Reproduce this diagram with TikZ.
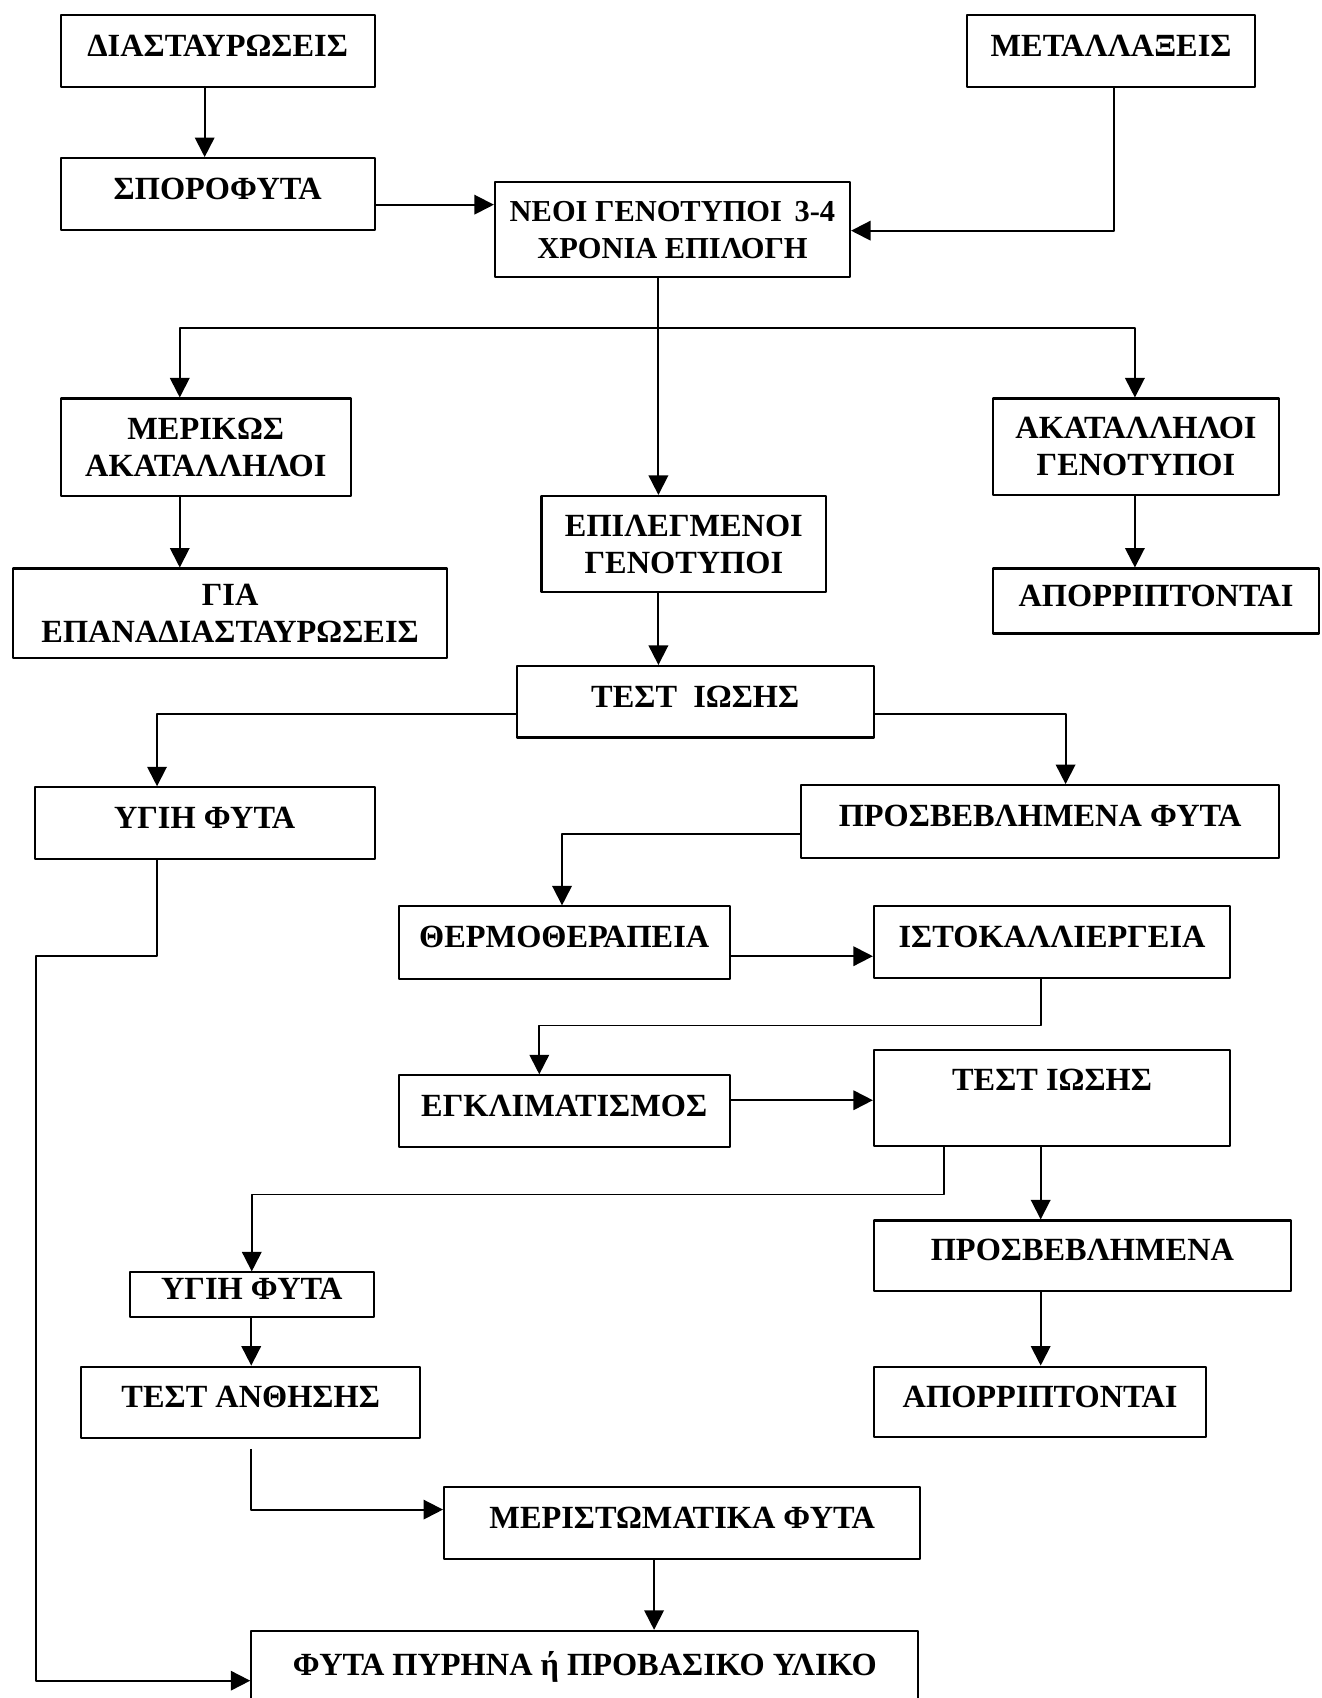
\documentclass[tikz,border=0pt]{standalone}
\usepackage{fontspec}
\setmainfont{Liberation Serif}
\usetikzlibrary{arrows.meta}
\begin{document}
\begin{tikzpicture}[x=.02cm, y=-.02cm, line width=1pt, line join=round,
	font=\fontsize{17}{19.4}\selectfont\bfseries, >={Triangle[length=.36cm,width=.36cm]},
	box/.style={draw, line width=1.1pt, align=center, inner sep=0pt, text depth=.2cm},
	box2/.style={box, text depth=0pt}]
	\useasboundingbox (0,0) rectangle (1220,1568);
	% boxes
	\node[box, minimum width=5.8cm, minimum height=1.32cm] (dia) at (201,47) {ΔΙΑΣΤΑΥΡΩΣΕΙΣ};
	\node[box, minimum width=5.32cm, minimum height=1.32cm] (meta) at (1026,47) {ΜΕΤΑΛΛΑΞΕΙΣ};
	\node[box, minimum width=5.8cm, minimum height=1.32cm] (spor) at (201,179) {ΣΠΟΡΟΦΥΤΑ};
	\node[box2, minimum width=6.56cm, minimum height=1.76cm, font=\fontsize{16}{19.4}\selectfont\bfseries] (neoi) at (621,212) {ΝΕΟΙ ΓΕΝΟΤΥΠΟΙ\ \,3-4\\ΧΡΟΝΙΑ ΕΠΙΛΟΓΗ};
	\node[box2, minimum width=5.36cm, minimum height=1.8cm] (merik) at (190,413) {ΜΕΡΙΚΩΣ\\ΑΚΑΤΑΛΛΗΛΟΙ};
	\node[box2, minimum width=8.02cm, minimum height=1.66cm] (gia) at (212.5,566.5) {ΓΙΑ\\ΕΠΑΝΑΔΙΑΣΤΑΥΡΩΣΕΙΣ};
	\node[box2, minimum width=5.26cm, minimum height=1.78cm] (epil) at (631.5,502.5) {ΕΠΙΛΕΓΜΕΝΟΙ\\ΓΕΝΟΤΥΠΟΙ};
	\node[box2, minimum width=5.28cm, minimum height=1.78cm] (akat) at (1049,412.5) {ΑΚΑΤΑΛΛΗΛΟΙ\\ΓΕΝΟΤΥΠΟΙ};
	\node[box, minimum width=6.02cm, minimum height=1.2cm] (apor1) at (1067.5,555) {ΑΠΟΡΡΙΠΤΟΝΤΑΙ};
	\node[box, minimum width=6.6cm, minimum height=1.32cm] (test1) at (642,648) {ΤΕΣΤ~~ΙΩΣΗΣ};
	\node[box, minimum width=6.28cm, minimum height=1.32cm] (ygi1) at (189,760) {ΥΓΙΗ ΦΥΤΑ};
	\node[box, minimum width=8.82cm, minimum height=1.34cm] (pros1) at (960.5,758.5) {ΠΡΟΣΒΕΒΛΗΜΕΝΑ ΦΥΤΑ};
	\node[box, minimum width=6.12cm, minimum height=1.34cm] (therm) at (521,870.5) {ΘΕΡΜΟΘΕΡΑΠΕΙΑ};
	\node[box, minimum width=6.58cm, minimum height=1.32cm] (isto) at (971.5,870) {ΙΣΤΟΚΑΛΛΙΕΡΓΕΙΑ};
	\node[box, minimum width=6.12cm, minimum height=1.32cm] (egkl) at (521,1026) {ΕΓΚΛΙΜΑΤΙΣΜΟΣ};
	\node[box2, minimum width=6.58cm, minimum height=1.76cm] (test2) at (971.5,1014) {ΤΕΣΤ ΙΩΣΗΣ\\\mbox{}};
	\node[box, minimum width=7.7cm, minimum height=1.3cm] (pros2) at (999.5,1159.5) {ΠΡΟΣΒΕΒΛΗΜΕΝΑ};
	\node[box, minimum width=6.14cm, minimum height=1.3cm] (apor2) at (960.5,1294.5) {ΑΠΟΡΡΙΠΤΟΝΤΑΙ};
	\node[box, minimum width=4.5cm, minimum height=.82cm] (ygi2) at (232.5,1195.5) {ΥΓΙΗ ΦΥΤΑ};
	\node[box, minimum width=6.26cm, minimum height=1.32cm] (anth) at (231.5,1295) {ΤΕΣΤ ΑΝΘΗΣΗΣ};
	\node[box, minimum width=8.8cm, minimum height=1.34cm] (meri) at (630,1406.5) {ΜΕΡΙΣΤΩΜΑΤΙΚΑ ΦΥΤΑ};
	\node[box, minimum width=12.32cm, minimum height=1.4cm] (fyta) at (540,1541) {ΦΥΤΑ ΠΥΡΗΝΑ ή ΠΡΟΒΑΣΙΚΟ ΥΛΙΚΟ};
	% bends
	\path
	(189,189) coordinate (j1)
	(1029,213) coordinate (j2)
	(608,303) coordinate (j3)
	(166,303) coordinate (j4)
	(1048,303) coordinate (j5)
	(145,659) coordinate (j6)
	(984,659) coordinate (j7)
	(519,770) coordinate (j8)
	(0,883) coordinate (j9)
	(961,947) coordinate (j10)
	(498,947) coordinate (j11)
	(0,1016) coordinate (j12)
	(872,1103) coordinate (j13)
	(232,1394) coordinate (j14)
	(604,0) coordinate (j15)
	(145,883) coordinate (j16)
	(33,1552) coordinate (j17)
	;
	\draw[->] (dia.south -| j1) -- (spor.north -| j1);
	\draw[->] (spor.east |- j1) -- (neoi.west |- j1);
	\draw[->] (meta.south -| j2) |- (neoi.east |- j2);
	\draw[->] (neoi.south -| j3) -- (epil.north -| j3);
	\draw[->] (j3) -| (merik.north -| j4);
	\draw[->] (j3) -| (akat.north -| j5);
	\draw[->] (merik.south -| j4) -- (gia.north -| j4);
	\draw[->] (akat.south -| j5) -- (apor1.north -| j5);
	\draw[->] (epil.south -| j3) -- (test1.north -| j3);
	\draw[->] (test1.west |- j6) -| (ygi1.north -| j6);
	\draw[->] (test1.east |- j7) -| (pros1.north -| j7);
	\draw[->] (pros1.west |- j8) -| (therm.north -| j8);
	\draw[->] (therm.east |- j9) -- (isto.west |- j9);
	\draw[->] (isto.south -| j10) -- (j10) -| (egkl.north -| j11);
	\draw[->] (egkl.east |- j12) -- (test2.west |- j12);
	\draw[->] (test2.south -| j13) -- (j13) -| (ygi2.north);
	\draw[->] (test2.south -| j10) -- (pros2.north -| j10);
	\draw[->] (pros2.south -| j10) -- (apor2.north -| j10);
	\draw[->] (ygi2.south -| j14) -- (anth.north -| j14);
	\draw[->, shorten <=.18cm] (anth.south -| j14) -- (j14) -- (meri.west |- j14);
	\draw[->] (meri.south -| j15) -- (fyta.north -| j15);
	\draw[->] (ygi1.south -| j6) -- (j16) -| (j17) -- (fyta.west |- j17);
\end{tikzpicture}
\end{document}
